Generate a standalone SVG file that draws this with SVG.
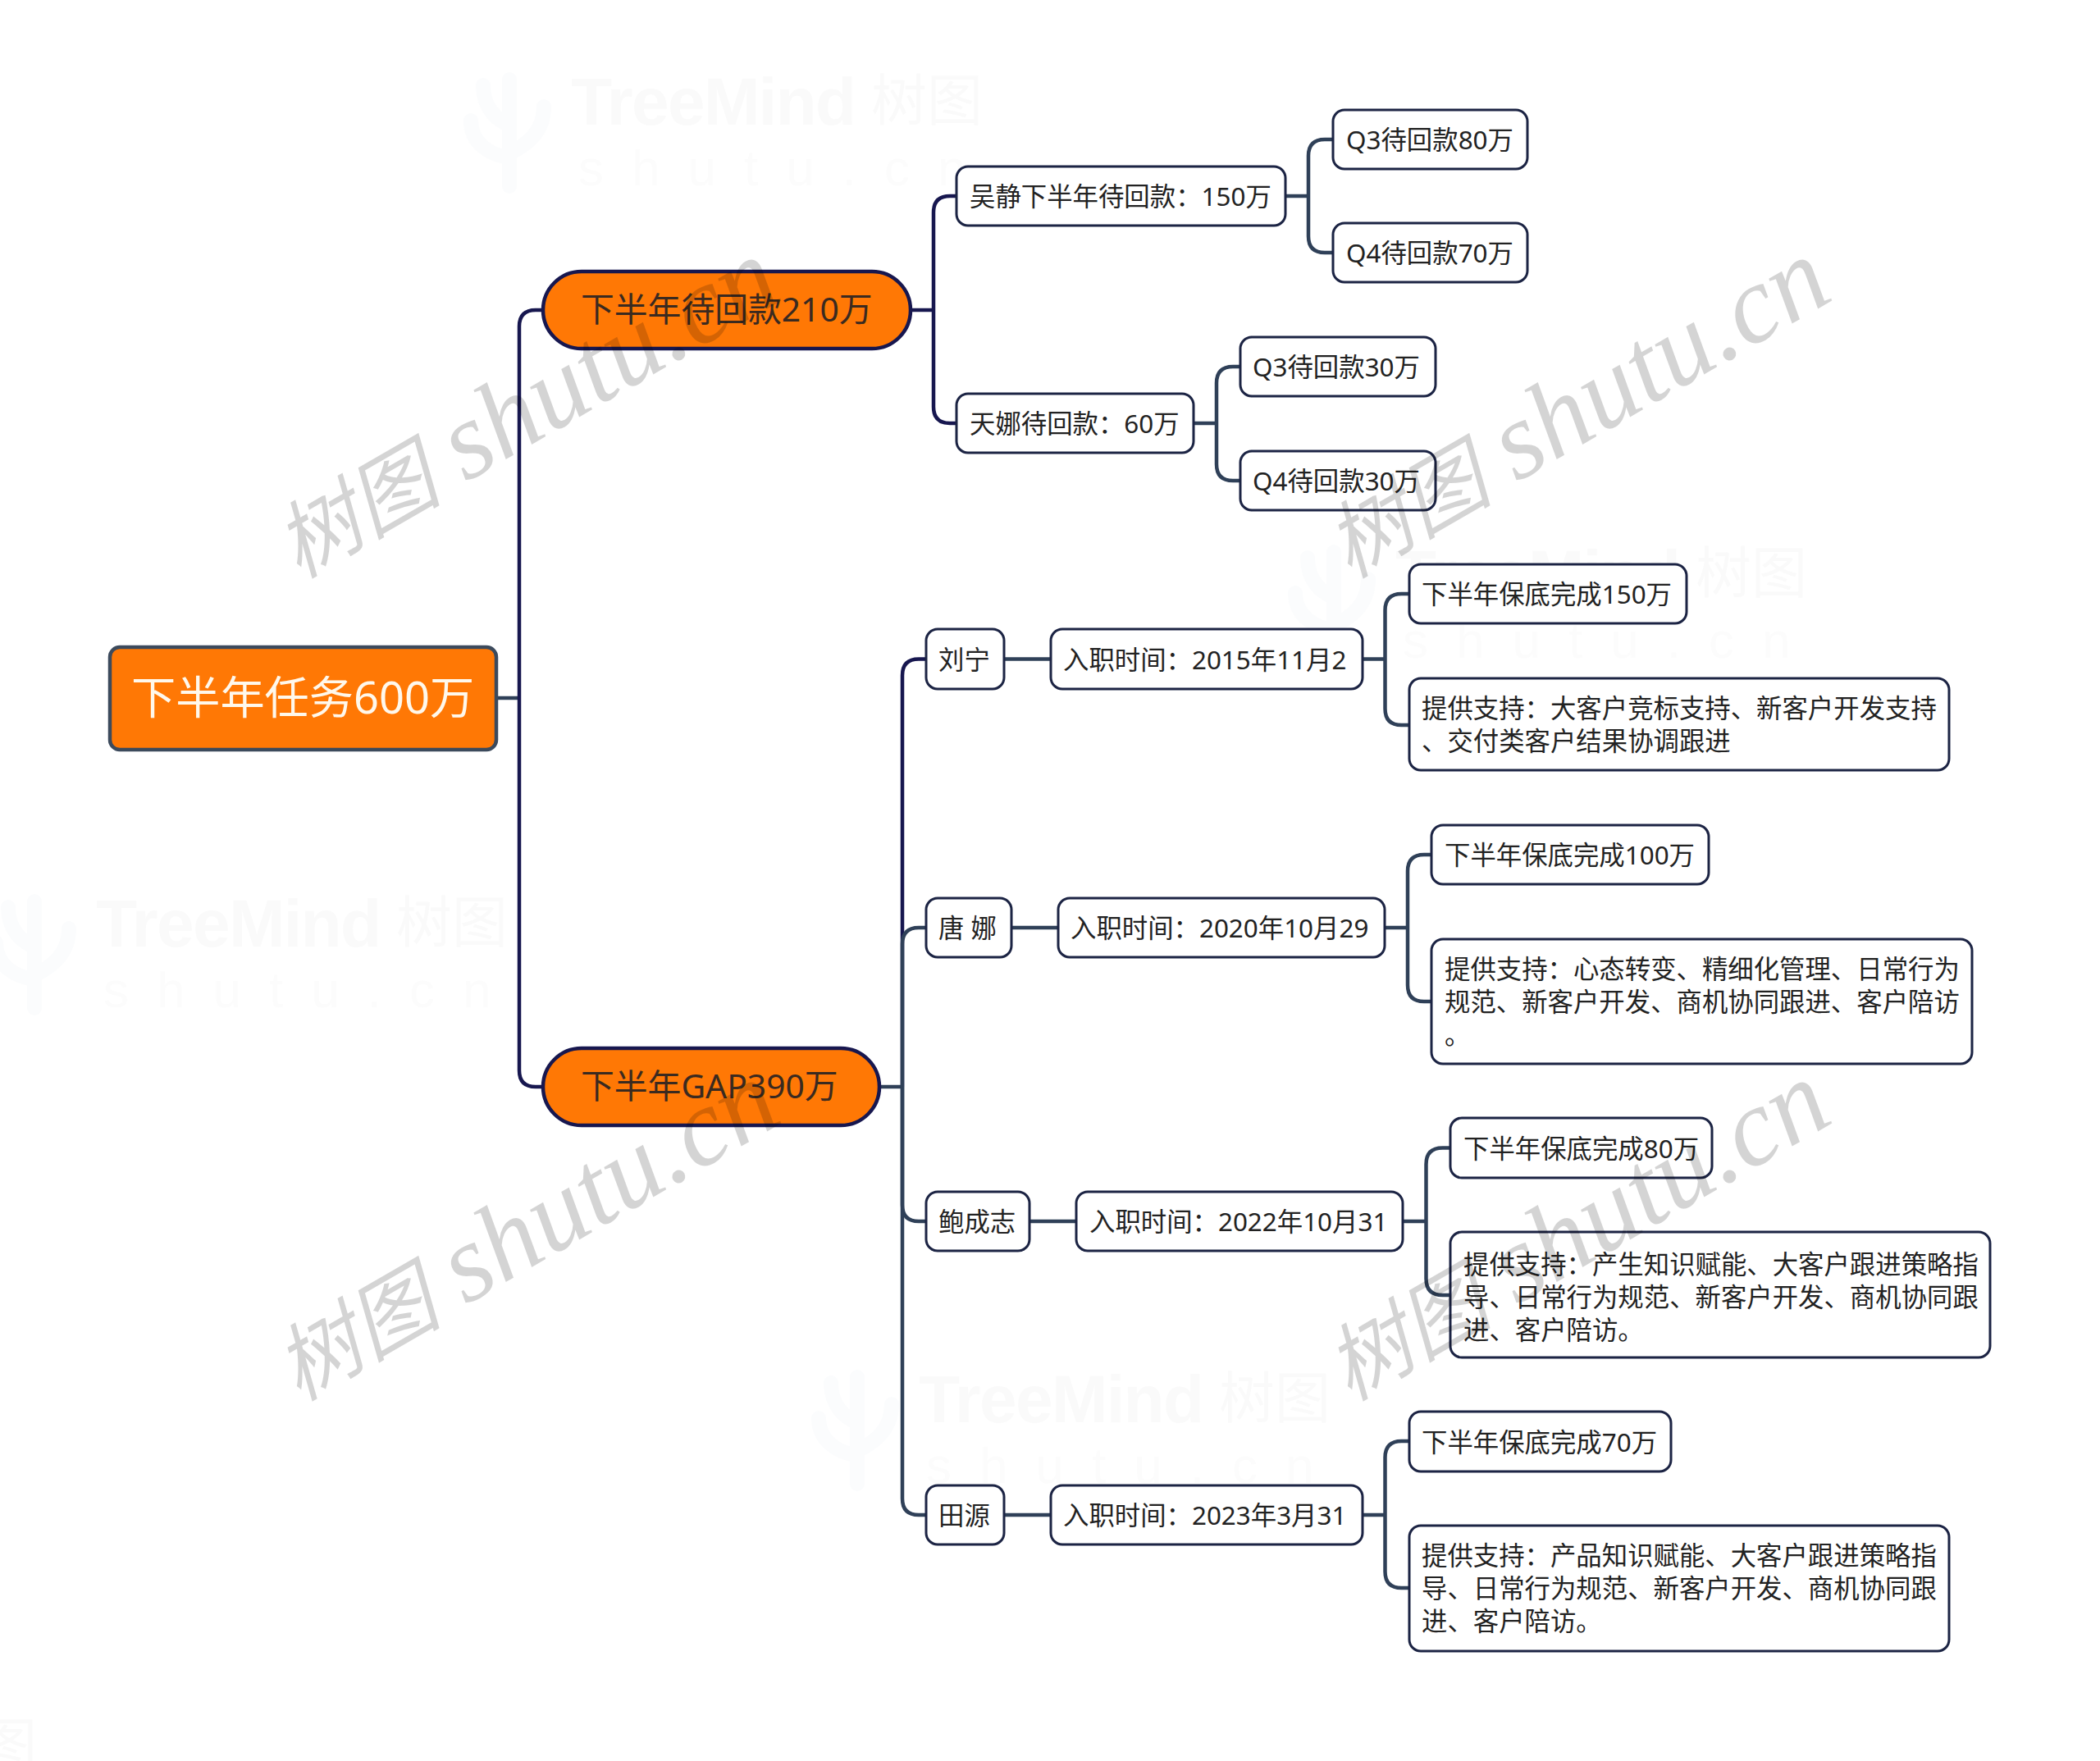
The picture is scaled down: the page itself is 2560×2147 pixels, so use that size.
<svg xmlns="http://www.w3.org/2000/svg" xmlns:xlink="http://www.w3.org/1999/xlink" width="2560" height="2147" viewBox="0 0 2560 2147">
<style>
text{font-family:"Noto Sans","Noto Sans CJK SC",sans-serif;}
.n{fill:#fff;stroke:#1c2444;stroke-width:3;}
.p{fill:#ff7805;stroke:#17174f;stroke-width:4.5;}
.r{fill:#ff7805;stroke:#3c4a5c;stroke-width:4.5;}
.t{font-size:31.4px;fill:#222;}
.tp{font-size:40.8px;fill:#3a2a20;}
.tr{font-size:54.2px;fill:#fff8ec;}
.c{fill:none;stroke-width:4.5;}
.navy{stroke:#17174f;}
.slate{stroke:#2f4058;}
.wm{font-size:102px;font-style:italic;fill:#000;fill-opacity:.17;font-family:"Noto Sans CJK SC",serif;}
.wms{font-family:"Liberation Serif","Noto Sans CJK SC",serif;font-size:134px;}
.f1{font-family:"Liberation Sans",sans-serif;font-weight:700;font-size:82px;letter-spacing:-1.7px;fill:#fafafa;}
.f2{font-size:68px;fill:#fafafa;}
.f3{font-family:"Liberation Sans",sans-serif;font-size:62px;letter-spacing:34px;fill:#fcfcfc;}
.logo{fill:none;stroke:#fbfcfd;stroke-width:18;stroke-linecap:round;stroke-linejoin:round;}
</style>
<defs>
<g id="faint">
<path class="logo" d="M-75 -55V75M-122 -5C-122 25 -95 38 -75 40M-33 -22C-33 10 -55 25 -75 35M-107 -48C-107 -20 -90 -5 -75 0"/>
<text class="f1" x="0" y="0">TreeMind</text>
<text class="f2" x="366" y="-5">树图</text>
<text class="f3" x="9" y="74">shutu.cn</text>
</g>
</defs>
<rect width="2560" height="2147" fill="#fff"/>
<g id="watermarks-faint">
<use xlink:href="#faint" href="#faint" x="696" y="152"/>
<use xlink:href="#faint" href="#faint" x="117" y="1154"/>
<use xlink:href="#faint" href="#faint" x="1701" y="728"/>
<use xlink:href="#faint" href="#faint" x="1120" y="1734"/>
<text class="f2" x="-23" y="2151">图</text>
</g>
<g id="connectors">
<path class="c slate" d="M606 851H633"/>
<path class="c navy" d="M661 378H653Q633 378 633 398V1305Q633 1325 653 1325H661"/>
<path class="c navy" d="M1110 378H1138"/>
<path class="c navy" d="M1166 239H1158Q1138 239 1138 259V496Q1138 516 1158 516H1166"/>
<path class="c slate" d="M1567 239H1595"/>
<path class="c slate" d="M1624 170H1615Q1595 170 1595 190V288Q1595 308 1615 308H1624"/>
<path class="c slate" d="M1455 516H1483"/>
<path class="c slate" d="M1512 447H1503Q1483 447 1483 467V566Q1483 586 1503 586H1512"/>
<path class="c navy" d="M1129 803.5H1120Q1100 803.5 1100 823.5V1325"/>
<path class="c slate" d="M1073 1325H1100"/>
<path class="c slate" d="M1129 1131H1120Q1100 1131 1100 1151V1325"/>
<path class="c slate" d="M1129 1489H1120Q1100 1489 1100 1469V1325"/>
<path class="c slate" d="M1129 1847H1120Q1100 1847 1100 1827V1325"/>
<path class="c slate" d="M1224 803.5H1281M1661 803.5H1688.5"/>
<path class="c slate" d="M1718 724H1708.5Q1688.5 724 1688.5 744V864Q1688.5 884 1708.5 884H1718"/>
<path class="c slate" d="M1233 1131H1290M1688.5 1131H1716"/>
<path class="c slate" d="M1745 1042H1736Q1716 1042 1716 1062V1201Q1716 1221 1736 1221H1745"/>
<path class="c slate" d="M1255 1489H1312M1710 1489H1738.5"/>
<path class="c slate" d="M1768 1399.5H1758.5Q1738.5 1399.5 1738.5 1419.5V1559Q1738.5 1579 1758.5 1579H1768"/>
<path class="c slate" d="M1224 1847H1281M1661 1847H1688.5"/>
<path class="c slate" d="M1718 1757H1708.5Q1688.5 1757 1688.5 1777V1916Q1688.5 1936 1708.5 1936H1718"/>
</g>
<g id="root"><rect class="r" x="134" y="789" width="471" height="125" rx="12"/><text class="tr" x="160" y="870">下半年任务600万</text></g>
<g id="pill-1"><rect class="p" x="662" y="331" width="448" height="94" rx="47"/><text class="tp" x="708" y="392">下半年待回款210万</text></g>
<g id="pill-2"><rect class="p" x="662" y="1278" width="410" height="94" rx="47"/><text class="tp" x="708" y="1339">下半年GAP390万</text></g>
<g id="wujing"><rect class="n" x="1166" y="203" width="401" height="72" rx="14"/><text class="t" x="1182" y="251">吴静下半年待回款：150万</text></g>
<g id="q3-80"><rect class="n" x="1625" y="134" width="237" height="72" rx="14"/><text class="t" x="1641" y="181.500">Q3待回款80万</text></g>
<g id="q4-70"><rect class="n" x="1625" y="272" width="237" height="72" rx="14"/><text class="t" x="1641" y="319.500">Q4待回款70万</text></g>
<g id="tianna"><rect class="n" x="1166" y="480" width="289" height="72" rx="14"/><text class="t" x="1182" y="528">天娜待回款：60万</text></g>
<g id="q3-30"><rect class="n" x="1512" y="411" width="238" height="72" rx="14"/><text class="t" x="1527" y="458.500">Q3待回款30万</text></g>
<g id="q4-30"><rect class="n" x="1512" y="550" width="238" height="72" rx="14"/><text class="t" x="1527" y="597.500">Q4待回款30万</text></g>
<g id="liuning"><rect class="n" x="1129" y="767" width="95" height="73" rx="14"/><text class="t" x="1144" y="816">刘宁</text></g>
<g id="join-1"><rect class="n" x="1281" y="767" width="380" height="73" rx="14"/><text class="t" x="1296" y="816">入职时间：2015年11月2</text></g>
<g id="lr-1a"><rect class="n" x="1718" y="688" width="338" height="72" rx="14"/><text class="t" x="1733" y="735.500">下半年保底完成150万</text></g>
<g id="lr-1b"><rect class="n" x="1718" y="827" width="658" height="112" rx="14"/><text class="t" x="1733" y="874.500">提供支持：大客户竞标支持、新客户开发支持<tspan x="1733" y="915">、交付类客户结果协调跟进</tspan></text></g>
<g id="tangna"><rect class="n" x="1129" y="1095" width="104" height="72" rx="14"/><text class="t" x="1144" y="1143">唐 娜</text></g>
<g id="join-2"><rect class="n" x="1290" y="1095" width="398" height="72" rx="14"/><text class="t" x="1305" y="1143">入职时间：2020年10月29</text></g>
<g id="tn-a"><rect class="n" x="1745" y="1006" width="338" height="72" rx="14"/><text class="t" x="1761" y="1053.500">下半年保底完成100万</text></g>
<g id="tn-b"><rect class="n" x="1745" y="1145" width="659" height="152" rx="14"/><text class="t" x="1761" y="1192.500">提供支持：心态转变、精细化管理、日常行为<tspan x="1761" y="1232.500">规范、新客户开发、商机协同跟进、客户陪访</tspan><tspan x="1761" y="1273">。</tspan></text></g>
<g id="baochengzhi"><rect class="n" x="1129" y="1453" width="126" height="72" rx="14"/><text class="t" x="1144" y="1501">鲍成志</text></g>
<g id="join-3"><rect class="n" x="1312" y="1453" width="398" height="72" rx="14"/><text class="t" x="1328" y="1501">入职时间：2022年10月31</text></g>
<g id="bcz-a"><rect class="n" x="1768" y="1363" width="319" height="73" rx="14"/><text class="t" x="1784" y="1411.500">下半年保底完成80万</text></g>
<g id="bcz-b"><rect class="n" x="1768" y="1502" width="658" height="153" rx="14"/><text class="t" x="1784" y="1553">提供支持：产生知识赋能、大客户跟进策略指<tspan x="1784" y="1593">导、日常行为规范、新客户开发、商机协同跟</tspan><tspan x="1784" y="1633">进、客户陪访。</tspan></text></g>
<g id="tianyuan"><rect class="n" x="1129" y="1811" width="95" height="72" rx="14"/><text class="t" x="1144" y="1859">田源</text></g>
<g id="join-4"><rect class="n" x="1281" y="1811" width="380" height="72" rx="14"/><text class="t" x="1296" y="1859">入职时间：2023年3月31</text></g>
<g id="ty-a"><rect class="n" x="1718" y="1721" width="319" height="73" rx="14"/><text class="t" x="1733" y="1769.500">下半年保底完成70万</text></g>
<g id="ty-b"><rect class="n" x="1718" y="1860" width="658" height="153" rx="14"/><text class="t" x="1733" y="1908">提供支持：产品知识赋能、大客户跟进策略指<tspan x="1733" y="1948">导、日常行为规范、新客户开发、商机协同跟</tspan><tspan x="1733" y="1988">进、客户陪访。</tspan></text></g>
<g id="watermarks">
<text class="wm" transform="translate(364 706) rotate(-30)">树图 <tspan class="wms" dx="8">shutu.cn</tspan></text>
<text class="wm" transform="translate(1645 706) rotate(-30)">树图 <tspan class="wms" dx="8">shutu.cn</tspan></text>
<text class="wm" transform="translate(364 1709) rotate(-30)">树图 <tspan class="wms" dx="8">shutu.cn</tspan></text>
<text class="wm" transform="translate(1645 1709) rotate(-30)">树图 <tspan class="wms" dx="8">shutu.cn</tspan></text>
</g>
</svg>
